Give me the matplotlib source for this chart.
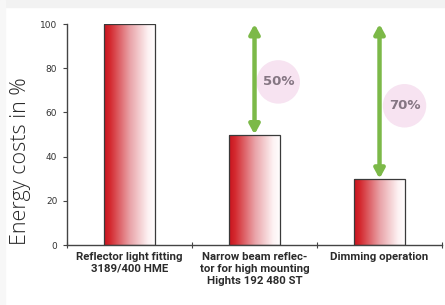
import matplotlib
matplotlib.use('Agg')
import matplotlib.pyplot as plt
import numpy as np
from matplotlib.colors import LinearSegmentedColormap
from matplotlib.patches import Rectangle

# data
categories = ['Reflector light fitting\n3189/400 HME',
              'Narrow beam reflec-\ntor for high mounting\nHights 192 480 ST',
              'Dimming operation']
costs = [100, 50, 30]
savings = ['', '50%', '70%']
yticks = [0, 20, 40, 60, 80, 100]

fig = plt.figure(figsize=[4.45, 3.05], dpi=100)
fig.patch.set_facecolor('white')
# faint grey frame at top and left
fig.patches.append(Rectangle((0, 0.978), 1, 0.022, transform=fig.transFigure, color='#f2f2f2', zorder=0))
fig.patches.append(Rectangle((0, 0), 0.012, 1, transform=fig.transFigure, color='#f7f7f7', zorder=0))

ax = fig.add_axes([0.1506, 0.1967, 0.8427, 0.7246])
ax.set_xlim(-0.5, 2.5)
ax.set_ylim(0, 100)

bar_w = 0.41
grad = LinearSegmentedColormap.from_list('g', [(0, '#c8141e'), (0.12, '#d42a30'),
                                               (0.5, '#e9a3a8'), (0.85, '#fdf2f3'), (1, '#ffffff')])
ramp = np.linspace(0, 1, 256).reshape(1, -1)

for i, c in enumerate(costs):
    x0 = i - bar_w / 2
    im = ax.imshow(ramp, cmap=grad, aspect='auto', extent=[x0, x0 + bar_w, 0, c], zorder=2)
    rect = Rectangle((x0, 0), bar_w, c, facecolor='none', edgecolor='#3a3a3a', linewidth=0.9, zorder=3)
    ax.add_patch(rect)
    im.set_clip_path(rect)

# arrows showing the savings
for i, c in enumerate(costs):
    if savings[i] == '':
        continue
    ax.annotate('', xy=(i, 100), xytext=(i, c),
                arrowprops=dict(arrowstyle='<|-|>,head_length=0.55,head_width=0.3',
                                color='#7cb948', lw=3.2, shrinkA=0, shrinkB=0), zorder=4)

circ_pos = [None, (1.19, 73.8), (2.2, 63.0)]
for i in range(len(costs)):
    if savings[i] == '':
        continue
    cx, cy = circ_pos[i]
    ax.scatter([cx], [cy], s=980, color='#f7e3f1', edgecolors='none', zorder=1)
    ax.text(cx, cy, savings[i], ha='center', va='center', fontsize=9.5,
            fontweight='bold', color='#857683', zorder=5)

ax.set_xticks([-0.5, 0.5, 1.5, 2.5])
ax.set_xticklabels([])
ax.set_xticks([0, 1, 2], minor=True)
ax.set_xticklabels(categories, minor=True, fontsize=8.2, fontweight='bold',
                   family='Roboto', color='#2b2b2b', linespacing=1.25)
ax.tick_params(axis='x', which='minor', length=0, pad=5)
ax.tick_params(axis='x', which='major', length=4, direction='inout', color='#444444')

ax.set_yticks(yticks)
ax.set_yticklabels([str(v) for v in yticks], fontsize=6.5, color='#333333')
ax.tick_params(axis='y', length=3, color='#444444', pad=4)

for s in ['top', 'right']:
    ax.spines[s].set_visible(False)
for s in ['left', 'bottom']:
    ax.spines[s].set_color('#444444')
    ax.spines[s].set_linewidth(1.0)

fig.text(0.047, 0.47, 'Energy costs in %', rotation=90, ha='center', va='center',
         fontsize=15.5, family='Open Sans', fontweight='light', color='#2a2a2a')

fig.savefig('out.png', dpi=100)
